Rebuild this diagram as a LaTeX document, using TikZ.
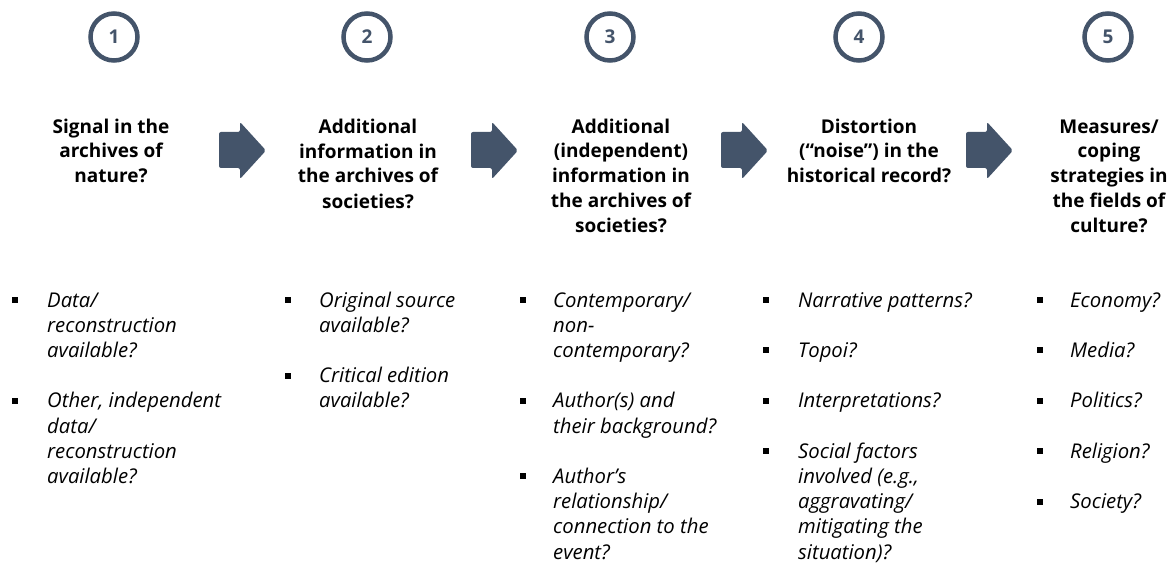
\documentclass[tikz,border=0pt]{standalone}
\usepackage{fontspec}
\setmainfont{Open Sans}
\begin{document}
\definecolor{slate}{HTML}{44546A}
\tikzset{
  stepnum/.style={circle, draw=slate, line width=4.5pt, minimum size=47pt, inner sep=0pt,
    text=slate, font=\fontsize{19}{22}\selectfont\bfseries},
  % multi-line nodes are placed by the baseline of their last line
  heading/.style={anchor=base, align=center, inner sep=0pt,
    font=\fontsize{19}{25}\selectfont\bfseries},
  item/.style={anchor=base west, align=left, inner sep=0pt,
    font=\fontsize{20.3}{25.2}\selectfont\itshape},
  bullet/.style={fill=black, minimum size=6pt, inner sep=0pt},
  blockarrow/.style={fill=slate, rounded corners=2pt}
}
\begin{tikzpicture}[x=1pt,y=-1pt]
\useasboundingbox (0,0) rectangle (1171,575);

% step numbers
\node[stepnum] (n1) at (114,37) {1};
\node[stepnum] (n2) at (367,37) {2};
\node[stepnum] (n3) at (610,37) {3};
\node[stepnum] (n4) at (859,37) {4};
\node[stepnum] (n5) at (1108,37) {5};

% column headings (first baseline at 133, 25 per line)
\node[heading] (h1) at (111,183) {Signal in the\\archives of\\nature?};
\node[heading] (h2) at (368,208) {Additional\\information in\\the archives of\\societies?};
\node[heading] (h3) at (621,233) {Additional\\(independent)\\information in\\the archives of\\societies?};
\node[heading] (h4) at (869,183) {Distortion\\(“noise”) in the\\historical record?};
\node[heading] (h5) at (1109,233) {Measures/\\coping\\strategies in\\the fields of\\culture?};

% block arrows between the headings
\foreach \x/\n in {219/1,471/2,721/3,966/4}{
  \fill[blockarrow] (\x,132) -- (\x+21,132) -- (\x+21,122) -- (\x+47,150.5)
    -- (\x+21,179) -- (\x+21,168) -- (\x,168) -- cycle;
}

% column 1
\node[bullet] (b11) at (15,300) {};
\node[item] (t11) at (47,357.4) {Data/\\reconstruction\\available?};
\node[bullet] (b12) at (15,400.8) {};
\node[item] (t12) at (47,483.4) {Other, independent\\data/\\reconstruction\\available?};

% column 2
\node[bullet] (b21) at (288,300) {};
\node[item] (t21) at (319,332.2) {Original source\\available?};
\node[bullet] (b22) at (288,375.6) {};
\node[item] (t22) at (319,407.8) {Critical edition\\available?};

% column 3
\node[bullet] (b31) at (523,300) {};
\node[item] (t31) at (553,357.4) {Contemporary/\\non-\\contemporary?};
\node[bullet] (b32) at (523,400.8) {};
\node[item] (t32) at (553,433) {Author(s) and\\their background?};
\node[bullet] (b33) at (523,476.4) {};
\node[item] (t33) at (553,559) {Author’s\\relationship/\\connection to the\\event?};

% column 4
\node[bullet] (b41) at (765.5,300) {};
\node[item] (t41) at (798,307) {Narrative patterns?};
\node[bullet] (b42) at (765.5,350.4) {};
\node[item] (t42) at (798,357.4) {Topoi?};
\node[bullet] (b43) at (765.5,400.8) {};
\node[item] (t43) at (798,407.8) {Interpretations?};
\node[bullet] (b44) at (765.5,451.2) {};
\node[item] (t44) at (798,559) {Social factors\\involved (e.g.,\\aggravating/\\mitigating the\\situation)?};

% column 5
\node[bullet] (b51) at (1040,300) {};
\node[item] (t51) at (1070,307) {Economy?};
\node[bullet] (b52) at (1040,350.4) {};
\node[item] (t52) at (1070,357.4) {Media?};
\node[bullet] (b53) at (1040,400.8) {};
\node[item] (t53) at (1070,407.8) {Politics?};
\node[bullet] (b54) at (1040,451.2) {};
\node[item] (t54) at (1070,458.2) {Religion?};
\node[bullet] (b55) at (1040,501.6) {};
\node[item] (t55) at (1070,508.6) {Society?};
\end{tikzpicture}
\end{document}
